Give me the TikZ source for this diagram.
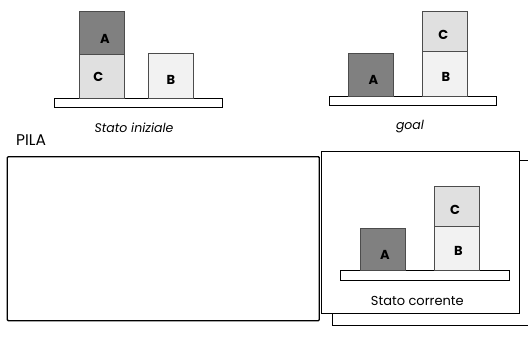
\documentclass[tikz,border=0pt]{standalone}
\usepackage{fontspec}
\setmainfont{Poppins}
\begin{document}
\begin{tikzpicture}[x=1pt,y=-1pt,
  blk/.style={draw=black!70,line width=0.7pt},
  blkA/.style={blk,fill=black!50},
  blkB/.style={blk,fill=black!5},
  blkC/.style={blk,fill=black!12},
  tbl/.style={draw=black,line width=0.6pt,fill=white},
  lbl/.style={font=\fontsize{13}{15}\selectfont\bfseries,inner sep=0pt},
  captext/.style={font=\fontsize{12.5}{14}\selectfont,inner sep=0pt},
  captit/.style={font=\fontsize{12.5}{14}\selectfont\itshape,inner sep=0pt},
  frm/.style={draw=black,line width=0.7pt,fill=white}]
\useasboundingbox (0,0) rectangle (528,361);

% initial state
\draw[tbl] (54.3,98.3) rectangle (222.7,107.3);
\draw[blkC] (79.3,54) rectangle (124,98.3);
\draw[blkA] (79.3,11.7) rectangle (124,54);
\draw[blkB] (148.3,53.3) rectangle (193.3,98.3);
\node[lbl] (iA) at (105,39) {A};
\node[lbl] (iC) at (98.3,77.3) {C};
\node[lbl] (iB) at (171,80) {B};
\node[captit] (init) at (134,128) {Stato iniziale};

% goal state
\draw[tbl] (329,96) rectangle (496.7,105);
\draw[blkA] (348.3,53.3) rectangle (393.3,96);
\draw[blkB] (422.7,51.7) rectangle (467.3,96);
\draw[blkC] (422.7,11.7) rectangle (467.3,51.7);
\node[lbl] (gA) at (373.3,80) {A};
\node[lbl] (gC) at (443.3,35) {C};
\node[lbl] (gB) at (446,77.3) {B};
\node[captit] (goal) at (410,126.7) {goal};

% stack
\node[font=\fontsize{15.5}{18}\selectfont,inner sep=0pt] (pila) at (31,140) {PILA};
\draw[line width=1.3pt,rounded corners=1pt] (7.3,156.7) rectangle (319.3,320.7);

% current state frames
\draw[frm] (332.7,160.7) rectangle (540,325);
\draw[frm] (321,151) rectangle (519.3,313.3);
\draw[tbl] (340.7,270) rectangle (509,280);
\draw[blkA] (360,228.3) rectangle (405.7,270);
\draw[blkB] (434.3,226) rectangle (479,270);
\draw[blkC] (434.3,186.7) rectangle (479,226);
\node[lbl] (cA) at (385,255) {A};
\node[lbl] (cC) at (455,210) {C};
\node[lbl] (cB) at (458.3,251) {B};
\node[captext,font=\fontsize{13}{15}\selectfont] (curr) at (417.3,300.7) {Stato corrente};
\end{tikzpicture}
\end{document}
